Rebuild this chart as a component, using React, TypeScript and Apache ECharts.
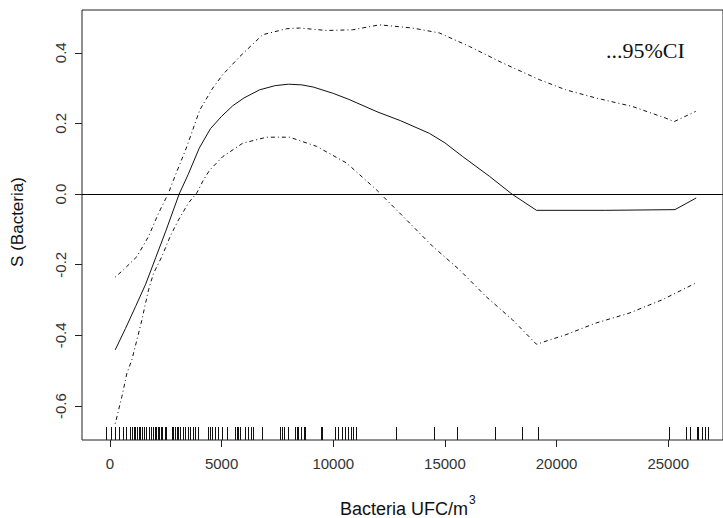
import React, { useEffect, useRef } from "react";
import * as echarts from "echarts";

const xTicks = [0, 5000, 10000, 15000, 20000, 25000];
const yTicks = [-0.6, -0.4, -0.2, 0, 0.2, 0.4];

const X_MIN = -1250;
const X_MAX = 27450;
const Y_MIN = -0.696;
const Y_MAX = 0.521;

const fitX = [237, 700, 1150, 1600, 2050, 2500, 3100, 3500, 4000, 4500, 5000, 5500, 6000, 6700, 7400, 8000, 8600, 9100, 10000, 10700, 12000, 13000, 14300, 15000, 15800, 17000, 18000, 19100, 22200, 25300, 26250];
const fitY = [-0.441, -0.38, -0.318, -0.255, -0.18, -0.105, 0.0, 0.055, 0.13, 0.185, 0.22, 0.25, 0.272, 0.295, 0.307, 0.311, 0.309, 0.303, 0.285, 0.268, 0.232, 0.208, 0.172, 0.145, 0.106, 0.05, 0.0, -0.046, -0.046, -0.044, -0.011];

const upperX = [237, 612, 1207, 1730, 2177, 2624, 2848, 3442, 4023, 4604, 5051, 5811, 6839, 7912, 8493, 9700, 10863, 12070, 13545, 14752, 16093, 17582, 19222, 20415, 21756, 23394, 24884, 25257, 26227];
const upperY = [-0.235, -0.214, -0.177, -0.12, -0.054, 0.003, 0.04, 0.134, 0.238, 0.3, 0.338, 0.389, 0.451, 0.468, 0.47, 0.463, 0.465, 0.479, 0.47, 0.456, 0.418, 0.371, 0.324, 0.295, 0.272, 0.248, 0.215, 0.205, 0.234];

const lowerX = [237, 536, 760, 983, 1207, 1399, 1730, 1954, 2325, 2696, 3071, 3518, 3889, 4189, 4470, 5051, 5946, 7018, 8046, 9254, 10595, 11936, 12964, 14453, 15646, 16840, 18029, 19100, 20416, 21757, 23246, 24734, 26227];
const lowerY = [-0.65, -0.573, -0.507, -0.469, -0.413, -0.365, -0.271, -0.224, -0.177, -0.12, -0.073, -0.025, 0.003, 0.04, 0.068, 0.106, 0.144, 0.161, 0.161, 0.135, 0.088, 0.012, -0.053, -0.148, -0.214, -0.29, -0.356, -0.425, -0.398, -0.365, -0.337, -0.299, -0.252];

const rugX = [-179, 60, 238, 417, 566, 730, 909, 983, 1058, 1132, 1207, 1281, 1356, 1430, 1520, 1624, 1728, 1833, 1907, 1997, 2056, 2146, 2205, 2265, 2325, 2444, 2503, 2772, 2846, 2921, 2995, 3070, 3144, 3263, 3368, 3487, 3591, 3710, 3815, 3964, 4381, 4485, 4590, 4709, 4858, 5007, 5260, 5603, 5677, 5752, 5826, 6050, 6199, 6303, 6422, 6795, 7614, 7689, 7793, 7987, 8285, 8359, 8434, 8538, 8687, 8732, 9432, 9507, 10073, 10222, 10371, 10520, 10669, 10788, 10893, 10997, 12830, 14498, 15527, 17240, 18447, 19177, 25034, 25808, 25972, 26300, 26345, 26524, 26643, 26762];

const zip = (xs: number[], ys: number[]) => xs.map((x, i) => [x, ys[i]]);

const SANS = "Liberation Sans, Arial, sans-serif";

export default function App() {
  const ref = useRef<HTMLDivElement>(null);
  useEffect(() => {
    const chart = echarts.init(ref.current!, null, { renderer: "svg" });
    const ciStyle = { color: "#111", width: 1, type: [1, 3, 4, 3] as any };
    chart.setOption({
      animation: false,
      backgroundColor: "#fff",
      grid: {
        left: 82,
        top: 10,
        width: 642,
        height: 430,
        show: true,
        borderColor: "#222",
        borderWidth: 1,
        backgroundColor: "transparent",
      },
      xAxis: {
        type: "value",
        min: X_MIN,
        max: X_MAX,
        axisLine: { show: false, onZero: false },
        splitLine: { show: false },
        axisTick: { show: true, length: 7, customValues: xTicks, lineStyle: { color: "#222", width: 1 } },
        axisLabel: {
          customValues: xTicks,
          margin: 16,
          fontSize: 15,
          color: "#333",
          fontFamily: SANS,
          formatter: (v: number) => String(v),
        },
      },
      yAxis: {
        type: "value",
        min: Y_MIN,
        max: Y_MAX,
        axisLine: { show: false, onZero: false },
        splitLine: { show: false },
        axisTick: { show: true, length: 7, customValues: yTicks, lineStyle: { color: "#222", width: 1 } },
        axisLabel: {
          customValues: yTicks,
          rotate: 90,
          margin: 14,
          fontSize: 15,
          color: "#333",
          fontFamily: SANS,
          formatter: (v: number) => v.toFixed(1),
        },
      },
      graphic: [
        {
          type: "text",
          x: 17,
          y: 222,
          rotation: Math.PI / 2,
          style: {
            text: "S (Bacteria)",
            fontSize: 17,
            fontFamily: SANS,
            fill: "#111",
            align: "center",
            verticalAlign: "middle",
          },
        },
        {
          type: "text",
          x: 468,
          y: 509,
          style: {
            text: "Bacteria UFC/m",
            fontSize: 18,
            fontFamily: SANS,
            fill: "#111",
            align: "right",
            verticalAlign: "middle",
          },
        },
        {
          type: "text",
          x: 469,
          y: 500,
          style: {
            text: "3",
            fontSize: 12,
            fontFamily: SANS,
            fill: "#111",
            align: "left",
            verticalAlign: "middle",
          },
        },
        {
          type: "text",
          x: 606,
          y: 50,
          style: {
            text: "...95%CI",
            fontSize: 22,
            fontFamily: "Liberation Serif, Times New Roman, serif",
            fill: "#111",
            align: "left",
            verticalAlign: "middle",
          },
        },
      ],
      series: [
        {
          type: "line",
          data: zip(fitX, fitY),
          showSymbol: false,
          symbol: "none",
          lineStyle: { color: "#111", width: 1 },
          markLine: {
            silent: true,
            symbol: ["none", "none"],
            label: { show: false },
            lineStyle: { color: "#000", width: 1, type: "solid" },
            data: [{ yAxis: 0 }],
          },
        },
        {
          type: "line",
          data: zip(upperX, upperY),
          showSymbol: false,
          symbol: "none",
          lineStyle: ciStyle,
        },
        {
          type: "line",
          data: zip(lowerX, lowerY),
          showSymbol: false,
          symbol: "none",
          lineStyle: ciStyle,
        },
        {
          type: "custom",
          data: rugX.map((v) => [v, Y_MIN]),
          encode: { x: 0, y: 1 },
          renderItem: (params: any, api: any) => {
            const p = api.coord([api.value(0), Y_MIN]);
            const x = Math.round(p[0]) + 0.5;
            return {
              type: "line",
              shape: { x1: x, y1: p[1], x2: x, y2: p[1] - 13 },
              style: { stroke: "#111", lineWidth: 1 },
            };
          },
        },
      ],
    });
    return () => chart.dispose();
  }, []);
  return (
    <div
      ref={ref}
      style={{ position: "fixed", left: 0, top: 0, width: 723, height: 518, background: "#fff" }}
    />
  );
}
